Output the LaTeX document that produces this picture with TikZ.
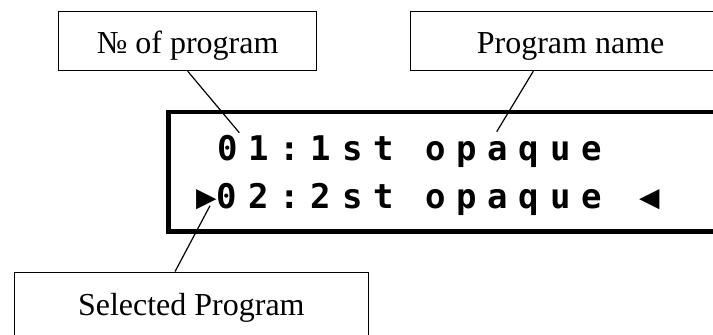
\documentclass[tikz,border=0pt]{standalone}
\usepackage{fontspec}
\setmainfont{Liberation Serif}
\newfontfamily\lcdfont[LetterSpace=31.8]{DejaVu Sans Mono Bold}
\begin{document}
\begin{tikzpicture}[x=0.5pt,y=-0.5pt,
  lbl/.style={draw,line width=0.7pt,inner sep=0pt,
    font=\fontsize{16pt}{19pt}\selectfont,
    text height=12.3pt,text depth=0pt,minimum height=29.5pt},
  lcdframe/.style={draw,line width=2.25pt,inner sep=0pt},
  lcdtxt/.style={inner sep=0pt,anchor=base west,
    font=\lcdfont\fontsize{17pt}{20pt}\selectfont},
  conn/.style={line width=0.6pt}]
\useasboundingbox (0,0) rectangle (713,334);
\begin{scope}
\clip (0,0) rectangle (713,334);
% callout boxes
\node[lbl,minimum width=129pt] (b1) at (187.7,41) {№ of program};
\node[lbl,minimum width=160pt] (b2) at (570.6,41) {Program name};
\node[lbl,minimum width=177pt,minimum height=36.35pt,text height=6.35pt] (b3) at (191.3,308.65) {Selected Program};
% LCD frame
\node[lcdframe,minimum width=288.25pt,minimum height=59.85pt] (lcd) at (456.75,171.65) {};
% LCD lines
\node[lcdtxt] (l1) at (216.6,160) {01:1st opaque};
\node[lcdtxt] (l2) at (216.6,208.3) {\makebox[0pt][r]{▶}02:2st opaque \kern3pt◀};
% connector ends
\coordinate (p1) at (239.3,132.7);
\coordinate (p2) at (496.7,131.7);
\coordinate (p3) at (210,205.7);
\draw[conn] (b1.south) -- (p1);
\draw[conn] ([xshift=-18.65pt]b2.south) -- (p2);
\draw[conn] ([xshift=-8.15pt]b3.north) -- (p3);
\end{scope}
\end{tikzpicture}
\end{document}
